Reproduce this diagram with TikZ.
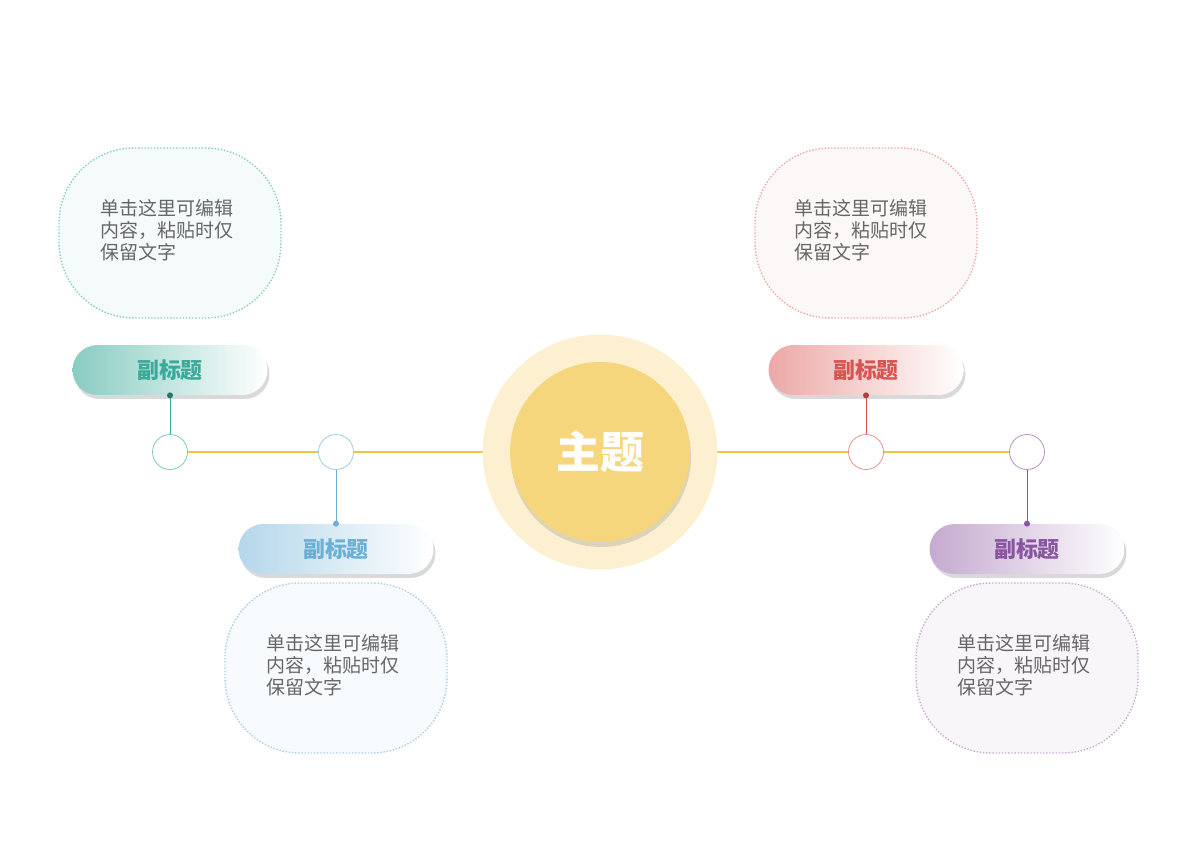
\documentclass[tikz,border=0pt]{standalone}
\usepackage{fontspec}
\setmainfont{Noto Sans CJK SC}
\usetikzlibrary{shadows,positioning}
\definecolor{teal1}{HTML}{3AAA9A}
\definecolor{blue1}{HTML}{6AAFD6}
\definecolor{red1}{HTML}{D9534F}
\definecolor{purp1}{HTML}{8A55A0}
\definecolor{gold}{HTML}{F2C444}
\tikzset{
  pill/.style={rounded corners=0.5cm,minimum width=3.9cm,minimum height=1cm,
    font=\fontsize{12.5}{14}\selectfont\bfseries,
    drop shadow={shadow xshift=0.04cm,shadow yshift=-0.08cm,opacity=0.3}},
  bubble/.style={draw,densely dotted,line width=0.8pt,rounded corners=1.5cm,
    minimum width=4.44cm,minimum height=3.4cm},
  knob/.style={circle,draw,fill=white,minimum size=0.7cm,inner sep=0pt},
  txt/.style={align=left,text=black!60,font=\fontsize{10.8}{12.6}\selectfont}
}
\begin{document}
\begin{tikzpicture}[x=0.02cm,y=-0.02cm]
\useasboundingbox (0,0) rectangle (1200,848);
\draw[gold,line width=1.2pt] (170,452) -- (1027,452);
\node[circle,fill=gold!25,minimum size=4.7cm] (halo) at (600,452) {};
\node[circle,fill=gold!70,minimum size=3.6cm,text=white,
  font=\fontsize{25}{28}\selectfont\bfseries,
  drop shadow={shadow xshift=0.02cm,shadow yshift=-0.1cm,opacity=0.25}] (main) at (600,452) {主题};
% knobs on the line
\node[knob,draw=teal1!70] (k1) at (170,452) {};
\node[knob,draw=blue1!70] (k2) at (336,452) {};
\node[knob,draw=red1!70] (k3) at (866,452) {};
\node[knob,draw=purp1!70] (k4) at (1027,452) {};
% titles
\node[pill,left color=teal1!60,right color=white,text=teal1] (p1) at (170,370) {副标题};
\node[pill,left color=blue1!50,right color=white,text=blue1] (p2) at (336,549) {副标题};
\node[pill,left color=red1!50,right color=white,text=red1] (p3) at (866,370) {副标题};
\node[pill,left color=purp1!50,right color=white,text=purp1] (p4) at (1027,549) {副标题};
\draw[teal1] (p1.south) -- (k1.north); \fill[teal1!70!black] (p1.south) circle (3);
\draw[blue1] (p2.north) -- (k2.south); \fill[blue1] (p2.north) circle (3);
\draw[red1] (p3.south) -- (k3.north); \fill[red1!80!black] (p3.south) circle (3);
\draw[purp1] (p4.north) -- (k4.south); \fill[purp1] (p4.north) circle (3);
% bubbles
\node[bubble,draw=teal1!60,fill=teal1!5] (b1) at (170,233) {};
\node[bubble,draw=blue1!60,fill=blue1!5] (b2) at (336,668) {};
\node[bubble,draw=red1!50,fill=red1!4] (b3) at (866,233) {};
\node[bubble,draw=purp1!50,fill=purp1!5] (b4) at (1027,668) {};
\node[txt,anchor=north west] (t1) at (94,193) {单击这里可编辑\\内容，粘贴时仅\\保留文字};
\node[txt,anchor=north west] (t2) at (260,628) {单击这里可编辑\\内容，粘贴时仅\\保留文字};
\node[txt,anchor=north west] (t3) at (788,193) {单击这里可编辑\\内容，粘贴时仅\\保留文字};
\node[txt,anchor=north west] (t4) at (951,628) {单击这里可编辑\\内容，粘贴时仅\\保留文字};
\end{tikzpicture}
\end{document}
